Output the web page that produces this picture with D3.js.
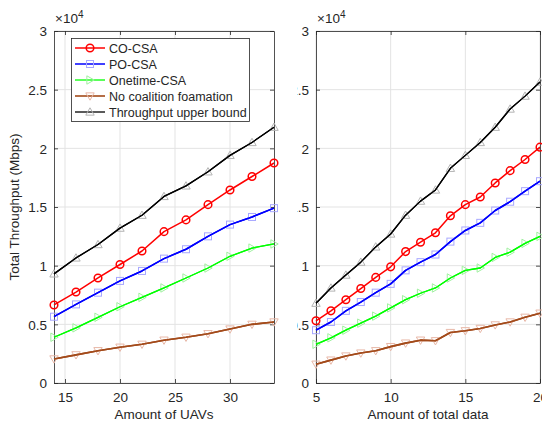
<!DOCTYPE html>
<html><head><meta charset="utf-8">
<script src="https://cdn.jsdelivr.net/npm/d3@7"></script>
<style>body{margin:0;background:#fff}svg{display:block}text{font-family:"Liberation Sans",Arial,sans-serif;fill:#262626}</style>
</head><body>
<svg id="c" width="542" height="424"></svg>
<script>
// ---- data ----
const seriesNames = ["CO-CSA","PO-CSA","Onetime-CSA","No coalition foamation","Throughput upper bound"];
const uavCounts = [14,16,18,20,22,24,26,28,30,32,34];
const leftCO  = [6650,7750,8950,10100,11250,12900,13900,15200,16450,17600,18750];
const leftPO  = [5650,6700,7700,8700,9550,10600,11400,12500,13500,14150,14900];
const leftOne = [3900,4700,5600,6500,7300,8100,8950,9800,10800,11500,11850];
const leftNo  = [2050,2400,2750,3050,3300,3650,3900,4200,4600,5000,5200];
const leftUB  = [9300,10660,11800,13200,14300,15900,16800,18000,19400,20500,21800];
const dataAmounts = [5,6,7,8,9,10,11,12,13,14,15,16,17,18,19,20];
const rightCO  = [5300,6150,7100,8050,9000,9900,11200,12000,12800,14250,15200,15850,17050,18100,19050,20100];
const rightPO  = [4500,5200,6150,6900,7700,8450,9600,10300,10950,12050,13000,13650,14700,15450,16350,17200];
const rightOne = [3300,3850,4500,5100,5700,6400,7100,7650,8100,8950,9600,9800,10700,11150,11900,12500];
const rightNo  = [1600,1950,2300,2550,2750,3100,3400,3650,3600,4300,4450,4650,4950,5200,5600,5950];
const rightUB  = [6800,8100,9200,10300,11600,12700,14300,15500,16450,18300,19400,20500,21800,23350,24450,25650];
const yTicks = [0,5000,10000,15000,20000,25000,30000];
const leftXTicks = [15,20,25,30];
const rightXTicks = [5,10,15,20];

const lineColors = ["#ff0000","#0000ff","#00ff00","#a34a1a","#000000"];
const markColors = ["#ff0000","#a8a8ff","#a0f0a0","#e8b8a8","#b4b4b4"];
const markTypes = ["circle","square","triR","triD","triU"];
const lineWidths = [1.5,1.5,1.3,1.6,1.3];

const svg = d3.select("#c");
const defs = svg.append("defs");
defs.append("clipPath").attr("id","rclip").attr("clipPathUnits","userSpaceOnUse")
  .append("rect").attr("x",297).attr("y",0).attr("width",245).attr("height",424);

function marker(g, type, x, y, color){
  if(type==="circle"){
    g.append("circle").attr("cx",x).attr("cy",y).attr("r",3.8).attr("fill","none").attr("stroke",color).attr("stroke-width",1.5);
  } else if(type==="square"){
    g.append("rect").attr("x",x-3.5).attr("y",y-3.5).attr("width",7).attr("height",7).attr("fill","none").attr("stroke",color).attr("stroke-width",1);
  } else {
    const s=4.2;
    let pts;
    if(type==="triU") pts=[[x,y-s],[x+s,y+s*0.75],[x-s,y+s*0.75]];
    else if(type==="triD") pts=[[x,y+s],[x+s,y-s*0.75],[x-s,y-s*0.75]];
    else pts=[[x+s,y],[x-s*0.75,y-s],[x-s*0.75,y+s]];
    g.append("polygon").attr("points",pts.map(p=>p.join(",")).join(" ")).attr("fill","none").attr("stroke",color).attr("stroke-width",1);
  }
}

function panel(opts){
  const {x0,x1,y0,y1,xDomain,xTicks,xs,series,xLabel,clip} = opts;
  const x = d3.scaleLinear().domain(xDomain).range([x0,x1]);
  const y = d3.scaleLinear().domain([0,30000]).range([y1,y0]);
  const g = svg.append("g");
  if(clip) g.attr("clip-path","url(#rclip)");
  g.append("g").selectAll("line").data(xTicks).join("line")
    .attr("x1",d=>x(d)).attr("x2",d=>x(d)).attr("y1",y0).attr("y2",y1).attr("stroke","#e3e3e3").attr("stroke-width",1);
  g.append("g").selectAll("line").data(yTicks).join("line")
    .attr("x1",x0).attr("x2",x1).attr("y1",d=>y(d)).attr("y2",d=>y(d)).attr("stroke","#e3e3e3").attr("stroke-width",1);
  const ax = g.append("g").attr("transform",`translate(0,${y1})`)
    .call(d3.axisBottom(x).tickValues(xTicks).tickSizeInner(-4).tickSizeOuter(0).tickPadding(9));
  const ay = g.append("g").attr("transform",`translate(${x0},0)`)
    .call(d3.axisLeft(y).tickValues(yTicks).tickSizeInner(-4).tickSizeOuter(0).tickPadding(7).tickFormat(d=>d/10000));
  const ayR = g.append("g").attr("transform",`translate(${x1},0)`)
    .call(d3.axisRight(y).tickValues(yTicks).tickSizeInner(-4).tickSizeOuter(0).tickFormat(""));
  const axT = g.append("g").attr("transform",`translate(0,${y0})`)
    .call(d3.axisTop(x).tickValues(xTicks).tickSizeInner(-4).tickSizeOuter(0).tickFormat(""));
  [ax,ay,ayR,axT].forEach(a=>{
    a.select(".domain").attr("stroke","#262626").attr("stroke-width",0.8);
    a.selectAll(".tick line").attr("stroke","#262626").attr("stroke-width",0.8);
    a.selectAll("text").attr("font-size",13.5).attr("fill","#262626").attr("font-family","Liberation Sans, Arial, sans-serif");
  });
  ay.selectAll(".tick text").attr("dy","0.36em");
  const ex = g.append("text").attr("x",x0+1).attr("y",y0-8).attr("font-size",13.5);
  ex.append("tspan").text("×10");
  ex.append("tspan").attr("font-size",10).attr("dy",-5).text("4");
  g.append("text").attr("x",(x0+x1)/2).attr("y",y1+36).attr("text-anchor","middle").attr("font-size",13.5).text(xLabel);
  const line = d3.line().x((d,i)=>x(xs[i])).y(d=>y(d));
  series.forEach((vals,k)=>{
    g.append("path").datum(vals).attr("d",line).attr("fill","none").attr("stroke",lineColors[k]).attr("stroke-width",lineWidths[k]).attr("stroke-linejoin","round");
  });
  series.forEach((vals,k)=>{
    const mg = g.append("g");
    vals.forEach((v,i)=>marker(mg, markTypes[k], x(xs[i]), y(v), markColors[k]));
  });
  series.forEach((vals,k)=>{
    if(k===0) return;
    g.append("path").datum(vals).attr("d",line).attr("fill","none").attr("stroke",lineColors[k]).attr("stroke-width",lineWidths[k]).attr("stroke-linejoin","round");
  });
  return {x,y,g};
}

const L = panel({x0:54,x1:274,y0:31,y1:383,xDomain:[14,34],xTicks:leftXTicks,xs:uavCounts,
  series:[leftCO,leftPO,leftOne,leftNo,leftUB],xLabel:"Amount of UAVs"});
const R = panel({x0:316,x1:540,y0:31,y1:383,xDomain:[5,20],xTicks:rightXTicks,xs:dataAmounts,
  series:[rightCO,rightPO,rightOne,rightNo,rightUB],xLabel:"Amount of total data",clip:true});

svg.append("text").attr("transform","translate(19,207) rotate(-90)").attr("text-anchor","middle").attr("font-size",13.5).text("Total Throughput (Mbps)");

const lg = svg.append("g");
lg.append("rect").attr("x",71.5).attr("y",38.5).attr("width",178).attr("height",83).attr("fill","#fff").attr("stroke","#262626").attr("stroke-width",0.8);
seriesNames.forEach((n,k)=>{
  const yy = 48 + k*16;
  lg.append("line").attr("x1",75).attr("x2",105).attr("y1",yy).attr("y2",yy).attr("stroke",lineColors[k]).attr("stroke-width",lineWidths[k]);
  marker(lg, markTypes[k], 90, yy, markColors[k]);
  lg.append("text").attr("x",109).attr("y",yy).attr("dy","0.36em").attr("font-size",12.5).attr("fill","#000").text(n);
});
</script>
</body></html>
